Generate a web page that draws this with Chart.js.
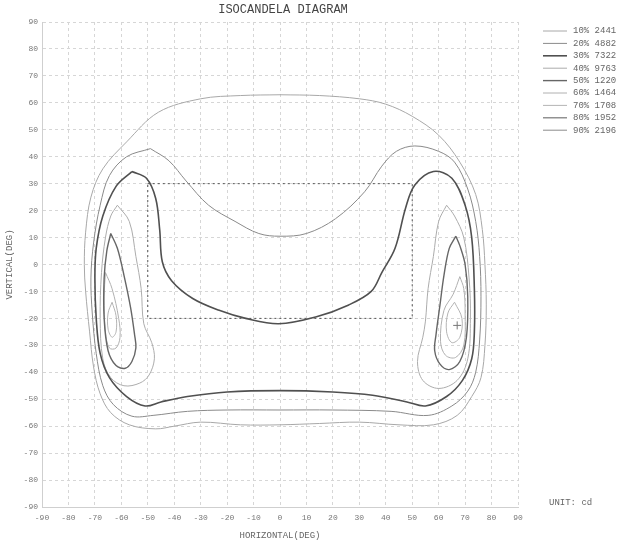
<!DOCTYPE html>
<html>
<head>
<meta charset="utf-8">
<script src="https://cdn.jsdelivr.net/npm/chart.js@4.4.1/dist/chart.umd.min.js"></script>
<style>
  html, body { margin: 0; padding: 0; background: #fff; }
  canvas { display: block; }
</style>
</head>
<body>
<canvas id="isoChart" width="623" height="543"></canvas>
<script>
// legend levels and candela values
const levels = ['10%', '20%', '30%', '40%', '50%', '60%', '70%', '80%', '90%'];
const candela = ['2441', '4882', '7322', '9763', '1220', '1464', '1708', '1952', '2196'];

const xTicks = [-90, -80, -70, -60, -50, -40, -30, -20, -10, 0, 10, 20, 30, 40, 50, 60, 70, 80, 90];
const yTicks = [-90, -80, -70, -60, -50, -40, -30, -20, -10, 0, 10, 20, 30, 40, 50, 60, 70, 80, 90];

// contours, [horizontal deg, vertical deg]
const c10 = [[0,63],[15,62.7],[30,61.5],[40,59.5],[50,55],[60,48],[68,38],[74,26],[76.5,13],[77.5,0],[78,-15],[77.5,-30],[76,-42],[72.5,-49],[67,-56],[58,-59.5],[45,-59.5],[30,-58.5],[15,-59],[0,-59.5],[-15,-59.5],[-30,-58.5],[-40,-60],[-47,-61],[-57,-59.5],[-64,-55],[-68,-48],[-70.5,-38],[-72,-25],[-73.5,-10],[-74,0],[-73.5,12],[-71.5,25],[-67,35.5],[-58,45.5],[-46,56.5],[-30,61.5],[-15,62.7],[0,63]];
const c20 = [[-49,43],[-42,38.5],[-35.5,31],[-27,22],[-17,16],[-8,11.5],[0,10.5],[10,11.5],[21,17],[32,27],[38.5,36.5],[44,42],[51,44],[60,42],[66,38],[71,28],[74,16],[75.5,3],[76,-12],[75.5,-28],[74,-40],[71,-47],[65,-52.5],[56,-56],[42,-54.5],[20,-54],[0,-54],[-20,-54],[-35,-54.5],[-48,-56],[-56,-56.3],[-63,-52],[-67,-45],[-69.5,-33],[-71,-18],[-71.5,-5],[-70.5,8],[-68,22],[-64.5,33],[-58,40],[-49,43]];
const c30 = [[-56,34.5],[-50.5,32],[-47,24.5],[-45.5,13],[-44.5,1],[-41,-6],[-33,-12.6],[-23,-17],[-13,-20],[-0.5,-22],[13.5,-19.5],[26,-15],[34.5,-10],[38.5,-3],[43.5,6],[47.5,21],[51,29.5],[58,34.5],[65,32],[70,22],[72.5,10],[73.5,-9],[73.5,-25],[72.5,-35],[69,-43],[63,-49],[55,-52.5],[48,-51],[35,-48.5],[20,-47.3],[0,-46.8],[-20,-47.3],[-35,-49],[-45,-51],[-51,-52.5],[-58,-49],[-64.5,-42],[-68,-33],[-69.5,-20],[-70,-5],[-69.5,6],[-67,18],[-62,29],[-56,34.5]];
const l40 = [[-61.5,22],[-57,16],[-54.5,3],[-52.5,-9],[-51.5,-22],[-48.5,-29],[-47.5,-35],[-49.5,-41],[-53,-44],[-59,-45],[-64,-42],[-67,-35],[-68,-20],[-67.5,-3],[-66,10],[-64,18],[-61.5,22]];
const r40 = [[63,22],[66,18],[69.5,10],[71.5,-5],[72,-20],[71,-35],[67,-43],[60,-46],[54,-43],[52,-36],[54,-27],[55,-21],[56,-9],[58,3],[60,16],[63,22]];
const l50 = [[-64,11.5],[-61.5,6],[-59,-4],[-56.5,-16],[-55,-26],[-54.5,-31],[-56,-36],[-58.5,-38.5],[-62,-37.5],[-65,-32],[-66.5,-20],[-66.5,-5],[-65.5,5],[-64,11.5]];
const r50 = [[66.5,10.5],[64,6],[62,-4],[60.5,-15],[59,-26],[58.5,-32],[60.5,-37],[64,-39],[68,-36],[70.5,-27],[71,-12],[70,0],[68,7],[66.5,10.5]];
const l60 = [[-66,-3],[-63.5,-9],[-61,-20],[-60.5,-27],[-62,-31],[-64.5,-31],[-66,-25],[-66.5,-12],[-66,-3]];
const r60 = [[68,-4.5],[65.5,-11],[62,-17],[60.7,-28.5],[62.6,-33.7],[66.4,-34.5],[69.5,-30],[70,-18],[69.5,-9],[68,-4.5]];
const l70 = [[-63.5,-14],[-62,-19],[-62,-25],[-63.5,-27],[-65,-24],[-65,-18],[-63.5,-14]];
const r70 = [[66,-14],[63.5,-18],[63,-25],[65,-29],[68,-27],[68.8,-20],[66,-14]];
const c80 = [];
const c90 = [];
const beamBox = [[-50,30],[50,30],[50,-20],[-50,-20],[-50,30]];
const maxPoint = [[67,-22.6]];

const lineColors = ['#a8a8a8', '#8a8a8a', '#505050', '#acacac', '#666666', '#b0b0b0', '#b4b4b4', '#777777', '#8c8c8c'];
const lineWidths = [1, 1, 1.6, 1, 1.4, 1, 1, 1.2, 1];

const pts = a => a.map(([x, y]) => ({ x, y }));

const contours = [
  [0, c10], [1, c20], [2, c30], [3, l40], [3, r40], [4, l50], [4, r50],
  [5, l60], [5, r60], [6, l70], [6, r70], [7, c80], [8, c90]
];

const datasets = contours.map(([lvl, d]) => ({
  label: levels[lvl] + ' ' + candela[lvl],
  data: pts(d),
  showLine: true,
  borderColor: lineColors[lvl],
  borderWidth: lineWidths[lvl],
  pointRadius: 0,
  tension: 0.35,
  fill: false
}));

datasets.push({
  label: 'box',
  data: pts(beamBox),
  showLine: true,
  borderColor: '#555',
  borderWidth: 1,
  borderDash: [2, 3],
  pointRadius: 0,
  tension: 0
});

datasets.push({
  label: 'max',
  data: pts(maxPoint),
  showLine: false,
  pointStyle: 'cross',
  pointRadius: 4,
  borderColor: '#777',
  borderWidth: 1
});

const mono = '"Liberation Mono", "DejaVu Sans Mono", monospace';

const textPlugin = {
  id: 'isoText',
  afterDraw(chart) {
    const c = chart.ctx;
    c.save();
    c.fillStyle = '#444';
    c.font = '12px ' + mono;
    c.textAlign = 'center';
    c.textBaseline = 'middle';
    c.fillText('ISOCANDELA DIAGRAM', 283, 10);

    c.font = '9px ' + mono;
    c.textAlign = 'left';
    c.fillStyle = '#666';
    c.fillText('UNIT: cd', 549, 503);

    levels.forEach((lv, i) => {
      const y = 31 + i * 12.4;
      c.strokeStyle = lineColors[i];
      c.lineWidth = lineWidths[i];
      c.beginPath();
      c.moveTo(543, y);
      c.lineTo(567, y);
      c.stroke();
      c.fillStyle = '#666';
      c.fillText(lv + ' ' + candela[i], 573, y);
    });
    c.restore();
  }
};

new Chart(document.getElementById('isoChart'), {
  type: 'scatter',
  data: { datasets: datasets },
  options: {
    responsive: false,
    animation: false,
    layout: { padding: { top: 22, right: 105, left: 0, bottom: 0 } },
    plugins: {
      legend: { display: false },
      tooltip: { enabled: false }
    },
    scales: {
      x: {
        type: 'linear',
        min: -90,
        max: 90,
        afterBuildTicks: s => { s.ticks = xTicks.map(v => ({ value: v })); },
        afterFit: s => { s.height = 36; },
        ticks: { color: '#777', font: { family: mono, size: 8 }, padding: 6, maxRotation: 0, autoSkip: false },
        grid: { color: '#d6d6d6', drawTicks: false },
        border: { color: '#cfcfcf', dash: [3, 3] },
        title: { display: true, text: 'HORIZONTAL(DEG)', color: '#666', font: { family: mono, size: 9 }, padding: { top: 0, bottom: 2 } }
      },
      y: {
        type: 'linear',
        min: -90,
        max: 90,
        afterBuildTicks: s => { s.ticks = yTicks.map(v => ({ value: v })); },
        afterFit: s => { s.width = 42; },
        ticks: { color: '#777', font: { family: mono, size: 8 }, padding: 4, autoSkip: false },
        grid: { color: '#d6d6d6', drawTicks: false },
        border: { color: '#cfcfcf', dash: [3, 3] },
        title: { display: true, text: 'VERTICAL(DEG)', color: '#666', font: { family: mono, size: 9 }, padding: { top: 4, bottom: 0 } }
      }
    }
  },
  plugins: [textPlugin]
});
</script>
</body>
</html>
